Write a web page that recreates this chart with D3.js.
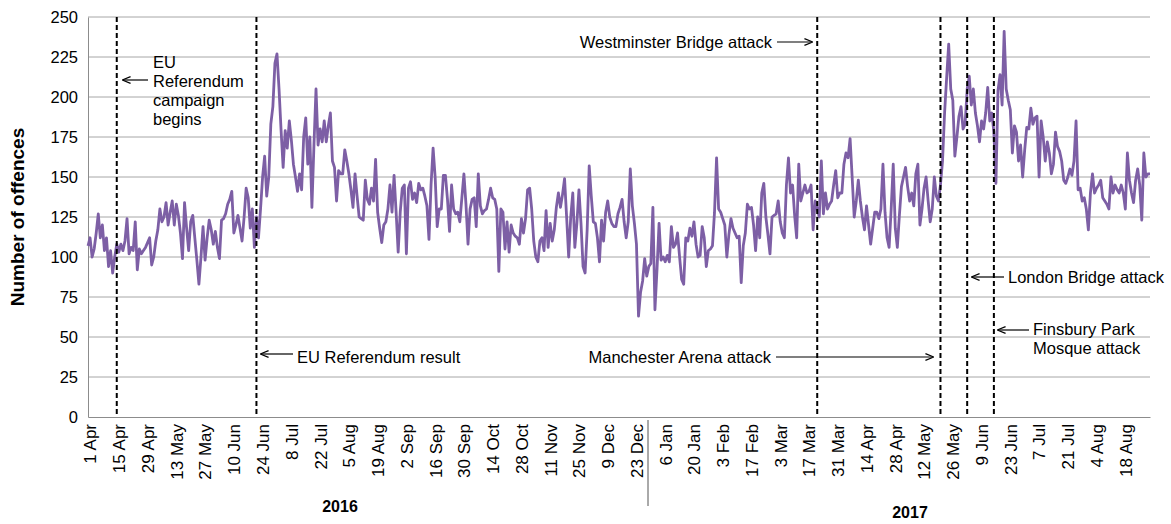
<!DOCTYPE html>
<html lang="en">
<head>
<meta charset="utf-8" />
<script src="https://cdn.jsdelivr.net/npm/d3@7"></script>
<style>
body { margin: 0; background: #fff; }
svg { font-family: "Liberation Sans", Arial, sans-serif; }
</style>
</head>
<body>
<svg id="chart" width="1171" height="524"></svg>
<script>
// daily offences, 1 Apr 2016 to 31 Aug 2017
var startDate = "2016-04-01";
var offences = [
  107,112,100,105,115,127,112,120,104,112,94,104,90,100,108,103,108,104,110,124,
  102,106,104,122,92,105,102,104,106,109,112,95,100,110,117,130,122,125,134,120,
  128,135,120,133,126,115,99,134,118,104,122,126,112,98,83,100,119,98,112,123,
  117,108,116,106,99,123,124,127,133,136,141,115,120,126,118,110,125,143,137,118,
  130,106,125,112,130,150,163,138,150,183,194,221,227,205,179,156,179,168,185,173,
  158,150,141,152,142,175,187,158,175,131,170,205,170,180,172,185,172,182,190,160,
  156,135,154,152,152,167,160,152,142,131,152,138,125,124,123,148,136,133,143,135,
  161,128,118,109,120,122,130,145,128,151,128,103,128,143,145,102,143,147,136,140,
  134,146,142,143,138,132,111,145,168,150,119,130,130,151,151,136,116,145,130,127,
  128,122,137,152,133,108,130,136,137,119,152,132,127,129,130,136,143,137,136,130,
  91,130,128,105,122,103,120,115,113,112,108,124,115,124,142,143,130,110,100,97,
  110,112,104,129,106,121,110,117,131,140,131,139,149,125,100,125,140,106,121,142,
  121,94,90,117,157,138,122,121,112,97,123,110,128,135,125,121,119,119,127,131,
  136,122,112,122,155,132,121,108,63,78,85,99,88,94,96,131,67,92,121,98,
  100,97,101,97,119,106,108,115,100,86,83,112,110,118,113,122,108,100,101,119,
  112,94,104,105,107,128,162,130,128,124,120,100,114,124,118,115,112,113,84,107,
  115,133,130,131,120,104,125,112,140,146,125,114,102,125,126,127,135,122,115,112,
  145,162,140,145,126,112,158,135,140,145,140,141,145,117,135,130,125,160,127,140,
  130,133,135,145,154,137,140,140,158,165,162,174,150,125,135,148,135,125,117,132,
  120,108,118,128,128,124,130,158,128,112,106,130,158,118,106,126,144,150,156,144,
  135,140,132,152,158,120,130,143,150,135,122,130,150,138,135,145,160,190,212,233,
  205,198,163,175,188,194,180,183,205,213,195,205,190,182,172,185,180,190,206,185,
  190,178,146,204,214,195,241,205,198,192,165,182,178,160,170,150,167,181,180,193,
  183,187,188,150,185,175,160,172,165,152,158,178,169,166,160,148,146,150,155,151,
  160,185,142,143,135,137,130,117,140,152,140,143,145,148,137,135,133,130,150,140,
  145,142,140,145,140,130,165,148,140,134,148,155,145,123,165,150,152,152
];
var tickLabels = ["1 Apr","15 Apr","29 Apr","13 May","27 May","10 Jun","24 Jun","8 Jul","22 Jul",
  "5 Aug","19 Aug","2 Sep","16 Sep","30 Sep","14 Oct","28 Oct","11 Nov","25 Nov","9 Dec",
  "23 Dec","6 Jan","20 Jan","3 Feb","17 Feb","3 Mar","17 Mar","31 Mar","14 Apr","28 Apr",
  "12 May","26 May","9 Jun","23 Jun","7 Jul","21 Jul","4 Aug","18 Aug"];
var yTicks = [0, 25, 50, 75, 100, 125, 150, 175, 200, 225, 250];
var eventDates = ["2016-04-15", "2016-06-22", "2017-03-22", "2017-05-21", "2017-06-03", "2017-06-16"];
var years = ["2016", "2017"];

var svg = d3.select("#chart");
var plotLeft = 88, plotRight = 1150, plotTop = 17, plotBottom = 417;

var parse = d3.timeParse("%Y-%m-%d");
var start = parse(startDate);
var dates = offences.map(function(v, i) { return d3.timeDay.offset(start, i); });
var tickDates = tickLabels.map(function(t, i) { return d3.timeDay.offset(start, i * 14); });

var x = d3.scaleTime()
    .domain([start, dates[dates.length - 1]])
    .range([plotLeft, plotRight]);
var y = d3.scaleLinear()
    .domain([0, 250])
    .range([plotBottom, plotTop]);

svg.append("rect").attr("width", 1171).attr("height", 524).attr("fill", "#fff");

// gridlines
svg.append("g")
  .selectAll("line")
  .data(yTicks.slice(1))
  .enter().append("line")
    .attr("x1", plotLeft).attr("x2", plotRight)
    .attr("y1", function(d) { return y(d); })
    .attr("y2", function(d) { return y(d); })
    .attr("stroke", "#a6a6a6")
    .attr("stroke-width", 1);

// y axis
var yAxis = svg.append("g")
    .attr("transform", "translate(" + plotLeft + ",0)")
    .call(d3.axisLeft(y).tickValues(yTicks).tickSize(0).tickPadding(10));
yAxis.select(".domain").attr("stroke", "#8c8c8c");
yAxis.selectAll("text").attr("font-size", 16.5).attr("fill", "#000")
    .attr("font-family", "Liberation Sans, Arial, sans-serif");

// x axis
var xAxis = svg.append("g")
    .attr("transform", "translate(0," + plotBottom + ")")
    .call(d3.axisBottom(x).tickValues(tickDates)
      .tickFormat(function(d, i) { return tickLabels[i]; })
      .tickSize(0));
xAxis.select(".domain").attr("stroke", "#8c8c8c");
xAxis.selectAll("text")
    .attr("font-size", 17)
    .attr("fill", "#000")
    .attr("font-family", "Liberation Sans, Arial, sans-serif")
    .attr("text-anchor", "end")
    .attr("transform", "rotate(-90)")
    .attr("x", -7)
    .attr("y", 2)
    .attr("dy", "0.35em");

// year divider and labels
svg.append("line")
    .attr("x1", 648).attr("x2", 648)
    .attr("y1", 420).attr("y2", 506)
    .attr("stroke", "#555").attr("stroke-width", 1);
svg.selectAll("text.year")
  .data(years)
  .enter().append("text")
    .attr("class", "year")
    .attr("x", function(d, i) { return i ? 910 : 340; })
    .attr("y", function(d, i) { return i ? 518 : 512; })
    .attr("text-anchor", "middle")
    .attr("font-weight", "bold")
    .attr("font-size", 16)
    .text(function(d) { return d; });

// y title
svg.append("text")
    .attr("transform", "translate(24,217) rotate(-90)")
    .attr("text-anchor", "middle")
    .attr("font-weight", "bold")
    .attr("font-size", 19)
    .text("Number of offences");

// the series
var line = d3.line()
    .x(function(d, i) { return x(dates[i]); })
    .y(function(d) { return y(d); });
svg.append("path")
    .datum(offences)
    .attr("d", line)
    .attr("fill", "none")
    .attr("stroke", "#7d5fa5")
    .attr("stroke-width", 2.8)
    .attr("stroke-linejoin", "round");

// event lines
svg.selectAll("line.event")
  .data(eventDates)
  .enter().append("line")
    .attr("class", "event")
    .attr("x1", function(d) { return x(parse(d)); })
    .attr("x2", function(d) { return x(parse(d)); })
    .attr("y1", plotTop).attr("y2", plotBottom)
    .attr("stroke", "#000")
    .attr("stroke-width", 2)
    .attr("stroke-dasharray", "5,3");

// annotations
var defs = svg.append("defs");
defs.append("marker")
    .attr("id", "arrow")
    .attr("viewBox", "0 0 10 10")
    .attr("refX", 9).attr("refY", 5)
    .attr("markerWidth", 7).attr("markerHeight", 7)
    .attr("orient", "auto")
  .append("path")
    .attr("d", "M0,1 L10,5 L0,9")
    .attr("fill", "none")
    .attr("stroke", "#000")
    .attr("stroke-width", 1.5);

var notes = [
  { lines: ["EU", "Referendum", "campaign", "begins"], x: 153, y: 68, anchor: "start", arrow: [148, 80, 123, 80] },
  { lines: ["EU Referendum result"], x: 297, y: 363, anchor: "start", arrow: [293, 354, 261, 354] },
  { lines: ["Westminster Bridge attack"], x: 772, y: 48, anchor: "end", arrow: [777, 42, 812, 42] },
  { lines: ["Manchester Arena attack"], x: 771, y: 363, anchor: "end", arrow: [776, 357, 933, 357] },
  { lines: ["London Bridge attack"], x: 1008, y: 283, anchor: "start", arrow: [1004, 277, 972, 277] },
  { lines: ["Finsbury Park", "Mosque attack"], x: 1033, y: 335, anchor: "start", arrow: [1029, 330, 998, 330] }
];

notes.forEach(function(n) {
  var t = svg.append("text")
      .attr("x", n.x).attr("y", n.y)
      .attr("text-anchor", n.anchor)
      .attr("font-size", 16.5);
  n.lines.forEach(function(s, i) {
    t.append("tspan").attr("x", n.x).attr("dy", i ? 19 : 0).text(s);
  });
  svg.append("line")
      .attr("x1", n.arrow[0]).attr("y1", n.arrow[1])
      .attr("x2", n.arrow[2]).attr("y2", n.arrow[3])
      .attr("stroke", "#000").attr("stroke-width", 1.2)
      .attr("marker-end", "url(#arrow)");
});
</script>
</body>
</html>
